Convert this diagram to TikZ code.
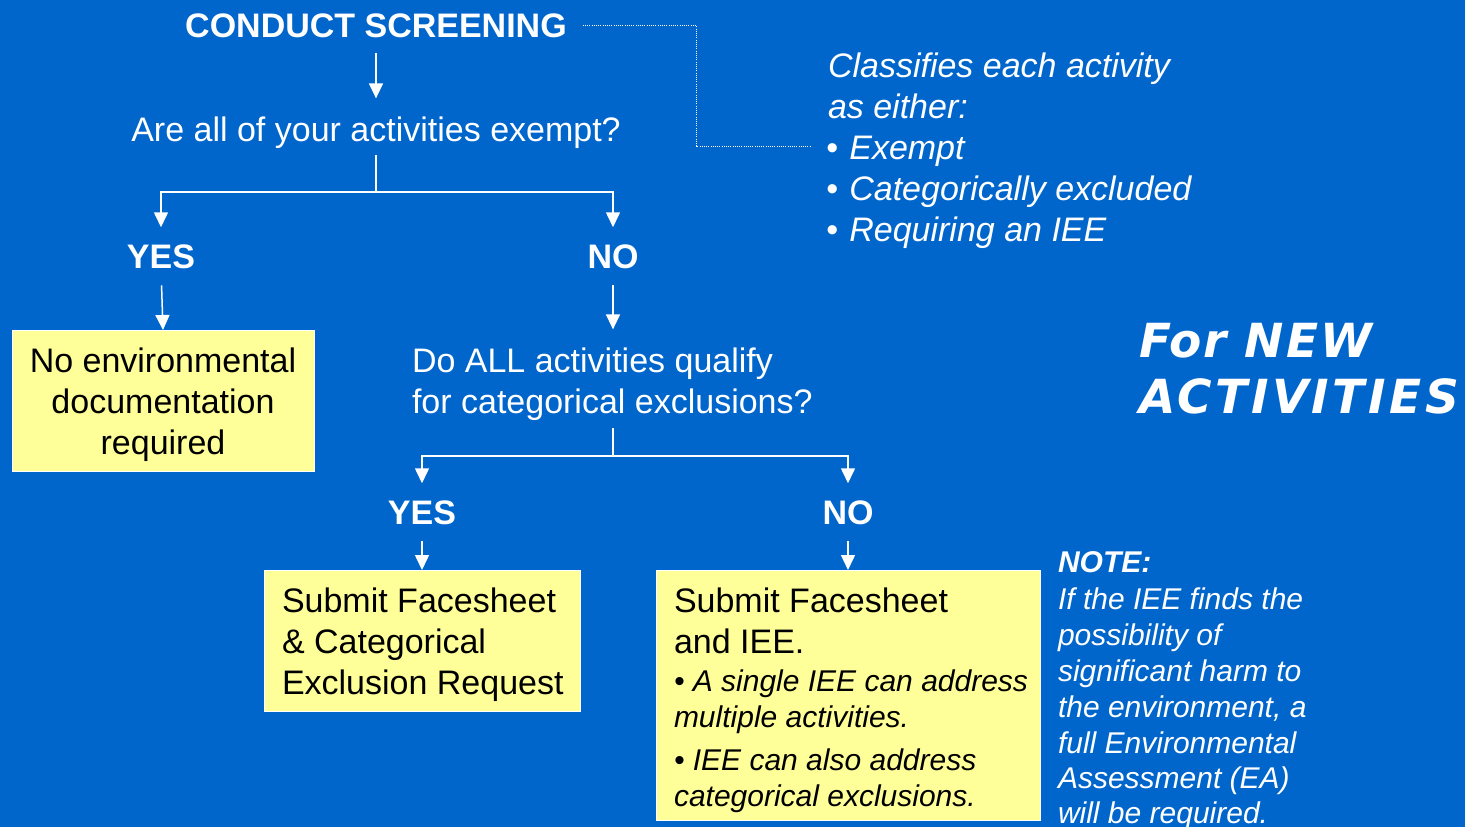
\documentclass[tikz,border=0pt]{standalone}
\usepackage{fontspec}
\setmainfont{Liberation Sans}
\newfontfamily\verd{DejaVu Sans}[LetterSpace=4]
\newfontfamily\verdwide{DejaVu Sans}[LetterSpace=7.5]
\usetikzlibrary{arrows.meta,calc}
\definecolor{bgblue}{HTML}{0066CC}
\definecolor{boxyellow}{HTML}{FFFF99}
\begin{document}
\begin{tikzpicture}[x=1pt,y=-1pt,
  every node/.style={inner sep=0pt,outer sep=0pt},
  wtxt/.style={text=white,font=\fontsize{34}{41}\selectfont},
  wbold/.style={text=white,font=\fontsize{34}{41}\selectfont\bfseries},
  witl/.style={text=white,font=\fontsize{34}{41}\selectfont\itshape},
  nitl/.style={text=white,font=\fontsize{30}{36}\selectfont\itshape},
  nbold/.style={text=white,font=\fontsize{30}{36}\selectfont\bfseries\itshape},
  btxt/.style={text=black,font=\fontsize{34}{41}\selectfont},
  bitl/.style={text=black,font=\fontsize{30}{36}\selectfont\itshape},
  bigtitle/.style={text=white,font=\fontsize{47}{58}\selectfont\verd\bfseries\itshape},
  bigtitlew/.style={text=white,font=\fontsize{47}{58}\selectfont\verdwide\bfseries\itshape},
  ybox/.style={draw=white,line width=1pt,fill=boxyellow,rectangle,anchor=north west},
  arr/.style={draw=white,line width=1.5pt,-{Triangle[width=14pt,length=15pt]}},
  plain/.style={draw=white,line width=1.5pt},
  link/.style={draw=white,line width=0.9pt,dash pattern=on 1pt off 1.2pt}]
\fill[bgblue] (0,0) rectangle (1465,827);
\useasboundingbox (0,0) rectangle (1465,827);

% top flow
\node[wbold,anchor=base] (conduct) at (376,37) {CONDUCT SCREENING};
\node[wtxt,anchor=base] (q1) at (376,141) {Are all of your activities exempt?};
\node[wbold,anchor=base] (yes1) at (161,268) {YES};
\node[wbold,anchor=base] (no1) at (613,268) {NO};

% box 1
\node[ybox,minimum width=302pt,minimum height=141pt] (box1) at (12,330) {};
\node[btxt,anchor=base] (b1a) at (163,372) {No environmental};
\node[btxt,anchor=base] (b1b) at (163,413) {documentation};
\node[btxt,anchor=base] (b1c) at (163,454) {required};

% second question
\node[wtxt,anchor=base west] (q2a) at (412,372) {Do ALL activities qualify};
\node[wtxt,anchor=base west] (q2b) at (412,413) {for categorical exclusions?};
\node[wbold,anchor=base] (yes2) at (422,524) {YES};
\node[wbold,anchor=base] (no2) at (848,524) {NO};

% box 2
\node[ybox,minimum width=316pt,minimum height=141pt] (box2) at (264,570) {};
\node[btxt,anchor=base west] (b2a) at (282,612) {Submit Facesheet};
\node[btxt,anchor=base west] (b2b) at (282,653) {\& Categorical};
\node[btxt,anchor=base west] (b2c) at (282,694) {Exclusion Request};

% box 3
\node[ybox,minimum width=384pt,minimum height=250pt] (box3) at (656,570) {};
\node[btxt,anchor=base west] (b3a) at (674,612) {Submit Facesheet};
\node[btxt,anchor=base west] (b3b) at (674,653) {and IEE.};
\node[bitl,anchor=base west] (b3c) at (674,691) {• A single IEE can address};
\node[bitl,anchor=base west] (b3d) at (674,727) {multiple activities.};
\node[bitl,anchor=base west] (b3e) at (674,770) {• IEE can also address};
\node[bitl,anchor=base west] (b3f) at (674,806) {categorical exclusions.};

% right list
\node[witl,anchor=base west] (r1) at (828,77) {Classifies each activity};
\node[witl,anchor=base west] (r2) at (828,118) {as either:};
\node[witl,anchor=base west] (ex) at (826,159) {•\kern2pt{} Exempt};
\node[witl,anchor=base west] (r4) at (826,200) {•\kern2pt{} Categorically excluded};
\node[witl,anchor=base west] (r5) at (826,241) {•\kern2pt{} Requiring an IEE};

% big title
\node[bigtitle,anchor=base west] (t1) at (1139,357) {For NEW};
\node[bigtitlew,anchor=base west] (t2) at (1139,413) {ACTIVITIES};

% note
\node[nbold,anchor=base west] (n0) at (1058,572) {NOTE:};
\node[nitl,anchor=base west] (n1) at (1058,609) {If the IEE finds the};
\node[nitl,anchor=base west] (n2) at (1058,645) {possibility of};
\node[nitl,anchor=base west] (n3) at (1058,681) {significant harm to};
\node[nitl,anchor=base west] (n4) at (1058,717) {the environment, a};
\node[nitl,anchor=base west] (n5) at (1058,753) {full Environmental};
\node[nitl,anchor=base west] (n6) at (1058,788) {Assessment (EA)};
\node[nitl,anchor=base west] (n7) at (1058,823) {will be required.};

% connectors
\draw[arr,shorten <=16pt,shorten >=18pt] (conduct) -- (q1);
\draw[plain] (q1.south) ++(0,7) -- ++(0,37) coordinate (j1);
\draw[arr,shorten >=17pt] (j1) -| (yes1.north);
\draw[arr,shorten >=17pt] (j1) -| (no1.north);
\draw[arr,shorten <=17pt] (yes1.south) -- (box1.north);
\draw[arr,shorten <=17pt,shorten >=18pt] (no1.south) -- (no1.south |- q2a.north);
\draw[plain] (no1.south |- q2b.south) ++(0,8) -- ++(0,28) coordinate (j2);
\draw[arr,shorten >=17pt] (j2) -| (yes2.north);
\draw[arr,shorten >=17pt] (j2) -| (no2.north);
\draw[arr,shorten <=17pt] (yes2.south) -- (box2.north);
\draw[arr,shorten <=17pt] (no2.south) -- (box3.north);

% dotted link
\coordinate (bend) at (696,0);
\coordinate (lend) at (810,146);
\draw[link] ([xshift=16pt]conduct.east) -- (bend |- conduct.east) -- (bend |- lend) -- (lend);
\end{tikzpicture}
\end{document}
